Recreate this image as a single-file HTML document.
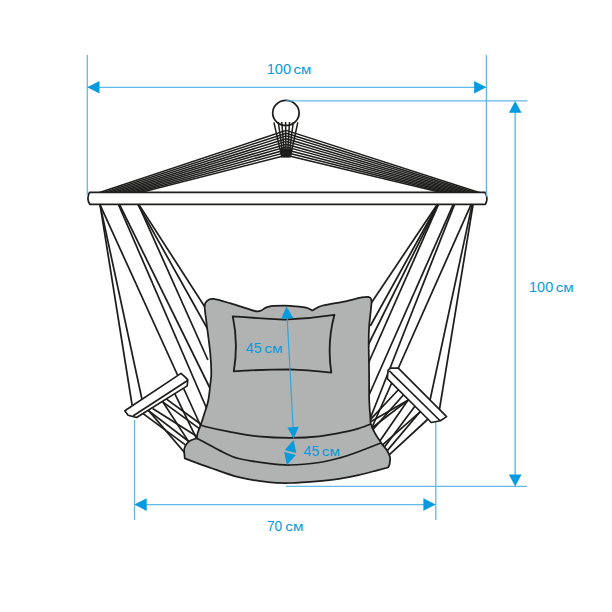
<!DOCTYPE html>
<html><head><meta charset="utf-8"><title>Hanging chair dimensions</title>
<style>html,body{margin:0;padding:0;background:#fff;}svg{display:block;}text{font-family:"Liberation Sans",sans-serif;fill:#059bde;}</style>
</head><body>
<svg width="612" height="612" viewBox="0 0 612 612">
<rect width="612" height="612" fill="#fff"/>
<g stroke="#5fbaea" stroke-width="1.3" fill="none">
<line x1="87.3" y1="87.3" x2="486.6" y2="87.3" />
<line x1="299.5" y1="100.9" x2="527.5" y2="100.9" />
<line x1="286.0" y1="486.4" x2="527.0" y2="486.4" />
<line x1="134.5" y1="420.0" x2="134.5" y2="520.0" />
<line x1="435.8" y1="421.0" x2="435.8" y2="520.0" />
<line x1="134.5" y1="504.6" x2="435.8" y2="504.6" />
</g>
<g stroke="#7cc6ed" stroke-width="1.8" fill="none">
<line x1="515.2" y1="105.0" x2="515.2" y2="482.0" />
</g>
<g stroke="#1d1d1b" stroke-width="1.5" fill="none" stroke-linecap="butt">
<line x1="98.1" y1="193.0" x2="286.2" y2="130.4" />
<line x1="480.7" y1="193.0" x2="286.2" y2="130.4" />
<line x1="102.6" y1="193.0" x2="286.2" y2="133.2" />
<line x1="476.5" y1="193.0" x2="286.2" y2="133.2" />
<line x1="107.1" y1="193.0" x2="286.2" y2="135.9" />
<line x1="472.4" y1="193.0" x2="286.2" y2="135.9" />
<line x1="111.6" y1="193.0" x2="286.2" y2="138.7" />
<line x1="468.2" y1="193.0" x2="286.2" y2="138.7" />
<line x1="116.1" y1="193.0" x2="286.2" y2="141.4" />
<line x1="464.1" y1="193.0" x2="286.2" y2="141.4" />
<line x1="120.5" y1="193.0" x2="286.2" y2="144.2" />
<line x1="459.9" y1="193.0" x2="286.2" y2="144.2" />
<line x1="125.0" y1="193.0" x2="286.2" y2="146.9" />
<line x1="455.8" y1="193.0" x2="286.2" y2="146.9" />
<line x1="129.5" y1="193.0" x2="286.2" y2="149.7" />
<line x1="451.6" y1="193.0" x2="286.2" y2="149.7" />
<line x1="134.0" y1="193.0" x2="286.2" y2="152.4" />
<line x1="447.5" y1="193.0" x2="286.2" y2="152.4" />
<line x1="138.5" y1="193.0" x2="286.2" y2="155.2" />
<line x1="443.3" y1="193.0" x2="286.2" y2="155.2" />
</g>
<ellipse cx="285.9" cy="112.9" rx="13.2" ry="12.55" fill="#fff" stroke="#1d1d1b" stroke-width="1.75"/>
<g stroke="#1d1d1b" stroke-width="1.5" fill="none" stroke-linecap="butt">
<line x1="273.9" y1="122.4" x2="281.8" y2="157.2" />
<line x1="278.3" y1="122.0" x2="283.2" y2="157.2" />
<line x1="281.8" y1="122.0" x2="284.6" y2="157.2" />
<line x1="285.6" y1="122.0" x2="286.0" y2="157.2" />
<line x1="289.5" y1="122.0" x2="287.4" y2="157.2" />
<line x1="293.3" y1="122.0" x2="288.8" y2="157.2" />
<line x1="297.8" y1="122.4" x2="290.3" y2="157.2" />
</g>
<path d="M280.2 148.5 L292 148.5 L290.6 157.6 L281.5 157.6 Z" fill="#1d1d1b"/>
<line x1="285.8" y1="100.9" x2="299.5" y2="100.9" stroke="#5fbaea" stroke-width="1.1"/>
<g stroke="#1d1d1b" stroke-width="1.72" fill="none">
<line x1="99.9" y1="203.6" x2="132.1" y2="405.0" />
<line x1="99.8" y1="203.6" x2="141.9" y2="399.0" />
<line x1="99.5" y1="203.6" x2="202.1" y2="429.0" />
<line x1="118.1" y1="203.6" x2="207.3" y2="410.0" />
<line x1="119.1" y1="203.6" x2="209.9" y2="388.0" />
<line x1="138.0" y1="203.6" x2="207.9" y2="360.0" />
<line x1="137.5" y1="203.6" x2="208.2" y2="330.0" />
<line x1="138.3" y1="203.6" x2="204.9" y2="307.0" />
<line x1="142.1" y1="412.9" x2="189.1" y2="447.6" />
<line x1="147.8" y1="410.1" x2="192.5" y2="444.2" />
<line x1="152.6" y1="408.4" x2="197.9" y2="437.0" />
<line x1="161.7" y1="401.1" x2="201.1" y2="429.9" />
<line x1="165.8" y1="398.6" x2="202.3" y2="425.3" />
<line x1="148.0" y1="409.9" x2="186.2" y2="454.5" />
<line x1="162.1" y1="400.7" x2="189.8" y2="443.4" />
<line x1="174.4" y1="392.8" x2="196.2" y2="437.9" />
<line x1="473.2" y1="203.6" x2="438.7" y2="414.0" />
<line x1="472.3" y1="203.6" x2="429.4" y2="403.0" />
<line x1="471.5" y1="203.6" x2="371.7" y2="428.0" />
<line x1="454.8" y1="203.6" x2="369.6" y2="420.0" />
<line x1="453.6" y1="203.6" x2="367.7" y2="398.0" />
<line x1="438.8" y1="203.6" x2="366.7" y2="367.0" />
<line x1="438.5" y1="203.6" x2="367.6" y2="346.0" />
<line x1="438.2" y1="203.6" x2="370.3" y2="326.0" />
<line x1="437.9" y1="203.6" x2="370.6" y2="304.0" />
<line x1="399.1" y1="389.0" x2="368.9" y2="421.2" />
<line x1="403.6" y1="394.7" x2="371.7" y2="430.9" />
<line x1="409.2" y1="399.6" x2="368.0" y2="423.2" />
<line x1="409.1" y1="399.4" x2="370.2" y2="429.3" />
<line x1="408.8" y1="399.1" x2="378.3" y2="443.2" />
<line x1="415.3" y1="405.7" x2="382.8" y2="449.3" />
<line x1="420.4" y1="411.6" x2="380.6" y2="446.6" />
<line x1="420.3" y1="411.5" x2="385.6" y2="452.6" />
<line x1="428.6" y1="418.5" x2="387.0" y2="456.9" />
</g>
<path d="M89.6 192.3 L484.9 192.3 Q488.7 198.3 485.4 204.3 L89.8 204.3 Q86.1 198.3 89.6 192.3 Z" fill="#fff" stroke="#1d1d1b" stroke-width="1.7" stroke-linejoin="round"/>
<g stroke="#5fbaea" stroke-width="1.3" fill="none">
<line x1="87.3" y1="55.0" x2="87.3" y2="196.5" />
<line x1="486.4" y1="55.0" x2="486.4" y2="196.5" />
</g>
<g stroke="#1d1d1b" stroke-width="1.65" fill="#fff" stroke-linejoin="round">
<path d="M124.8 410.8 L181 373.4 L185.8 377.6 L187.8 379.9 L187.2 385.9 L136.6 417.5 L128.1 415.3 Z"/>
<path d="M133 416 L187.6 380.5" fill="none"/>
<path d="M388.1 370.1 L390.5 368.1 L398.3 368.1 L446.6 416.6 L440.4 420.8 L431.2 422.5 L428.6 419.8 L387.3 378.7 Z"/>
<path d="M389.3 370.9 L440.4 421" fill="none"/>
</g>
<g stroke="#1d1d1b" stroke-width="1.75" fill="#b1b3b2" stroke-linejoin="round">
<path d="M204.7 308.0 C204.5 304.9 204.7 304.5 205.3 303.2 C205.9 301.9 207.0 300.7 208.4 300.0 C209.8 299.3 210.2 298.4 213.8 298.9 C217.4 299.4 224.2 301.5 230.0 303.2 C235.8 304.9 244.4 307.8 248.9 309.2 C253.4 310.6 255.0 311.2 257.1 311.4 C259.2 311.6 260.4 310.8 261.8 310.2 C263.2 309.6 264.1 308.5 265.3 307.9 C266.5 307.3 267.6 306.9 269.0 306.6 C270.4 306.3 269.9 306.0 273.4 305.9 C276.9 305.8 285.1 305.6 290.0 305.8 C294.9 306.0 300.1 306.7 303.1 307.1 C306.1 307.5 306.5 307.6 308.0 308.2 C309.5 308.8 311.4 310.0 312.1 310.4 C313.9 309.6 317.1 307.0 322.7 305.5 C328.3 304.0 339.1 302.7 345.6 301.3 C352.1 299.9 358.1 298.1 361.9 297.4 C365.7 296.7 366.8 296.5 368.4 296.9 C370.0 297.3 371.0 297.7 371.4 299.8 C371.8 301.9 371.3 305.2 370.9 309.5 C370.5 313.8 369.6 320.1 369.2 325.8 C368.8 331.5 368.7 335.9 368.7 343.8 C368.7 351.7 369.0 363.8 369.1 373.2 C369.2 382.6 369.0 392.7 369.2 400.0 C369.4 407.3 370.0 413.2 370.3 417.2 C370.6 421.2 370.1 421.3 370.9 424.0 C371.7 426.7 373.2 430.1 374.9 433.2 C376.6 436.3 379.2 440.0 381.2 442.9 C383.2 445.8 385.4 447.9 386.9 450.3 C388.4 452.7 389.6 454.9 390.0 457.2 C390.4 459.5 389.9 462.3 389.6 464.0 C389.3 465.7 388.3 466.9 388.0 467.5 C386.2 468.0 382.1 469.0 377.2 470.3 C372.3 471.6 364.8 473.8 358.4 475.2 C352.0 476.6 345.5 477.8 339.0 478.8 C332.5 479.8 327.4 480.4 319.2 481.1 C311.0 481.8 298.5 482.8 290.0 483.0 C281.5 483.2 276.6 483.1 268.0 482.1 C259.4 481.1 248.4 479.6 238.6 477.2 C228.8 474.8 218.2 470.5 209.2 467.4 C200.2 464.3 188.9 459.9 184.8 458.4 C184.7 456.9 183.9 451.6 184.2 449.2 C184.5 446.8 185.4 445.5 186.5 444.0 C187.6 442.5 189.3 441.2 191.0 440.3 C192.7 439.4 195.8 438.6 196.8 438.3 C196.9 437.4 196.9 435.5 197.6 433.2 C198.3 430.9 199.8 427.5 200.8 424.6 C201.8 421.7 202.4 420.0 203.6 416.0 C204.8 412.0 207.1 405.9 208.2 400.7 C209.3 395.5 209.7 389.6 210.2 385.0 C210.7 380.4 211.3 378.4 211.3 373.2 C211.3 368.0 211.1 362.1 210.3 353.6 C209.5 345.1 207.3 329.6 206.4 322.0 C205.5 314.4 204.9 311.1 204.7 308.0 Z"/>
<path d="M200.8 424.6 C201.5 424.9 200.3 425.3 205.0 426.5 C209.7 427.7 219.9 430.0 228.8 431.6 C237.7 433.2 248.0 435.3 258.2 436.4 C268.4 437.4 279.8 437.9 290.0 437.9 C300.2 437.9 309.4 437.5 319.2 436.4 C329.0 435.3 341.8 432.5 348.6 431.1 C355.4 429.7 356.3 429.2 360.0 428.0 C363.7 426.8 369.1 424.7 370.9 424.0" fill="none"/>
<path d="M196.8 438.3 C198.2 439.0 201.1 440.4 205.0 442.5 C208.9 444.6 214.4 447.9 220.0 450.6 C225.6 453.3 230.6 456.4 238.6 458.5 C246.6 460.6 259.4 462.3 268.0 463.4 C276.6 464.5 281.5 465.1 290.0 465.0 C298.5 464.9 310.9 463.7 319.2 462.5 C327.5 461.3 333.5 459.6 340.0 457.8 C346.5 456.0 351.5 454.2 358.4 451.7 C365.3 449.2 377.4 444.4 381.2 442.9" fill="none"/>
<path d="M232.8 316.4 Q262 318.6 284 319.6 Q310 318.6 334.4 314.8 Q326.8 343 331.3 372.6 Q305 370 290 369.4 Q262 369.6 233.8 371.3 Q238.5 343 232.8 316.4 Z" fill="none" stroke-width="1.85"/>
</g>
<path d="M87.3 87.3 L99.5 93.6 L99.5 81.0 Z" fill="#059bde"/>
<path d="M486.3 87.3 L474.1 81.0 L474.1 93.6 Z" fill="#059bde"/>
<path d="M515.2 101.0 L508.9 112.8 L521.5 112.8 Z" fill="#059bde"/>
<path d="M515.2 486.4 L521.5 474.6 L508.9 474.6 Z" fill="#059bde"/>
<path d="M134.5 504.6 L146.7 510.9 L146.7 498.3 Z" fill="#059bde"/>
<path d="M435.6 504.5 L423.4 498.2 L423.4 510.8 Z" fill="#059bde"/>
<line x1="287.1" y1="316.5" x2="293.2" y2="428.9" stroke="#2ea4de" stroke-width="1.15"/>
<path d="M286.6 306.5 L281.1 318.8 L293.4 318.2 Z" fill="#059bde"/>
<path d="M293.7 438.9 L298.7 426.8 L287.5 427.4 Z" fill="#059bde"/>
<path d="M293.6 440.0 L284.7 450.0 L296.3 453.1 Z" fill="#059bde"/>
<path d="M286.9 465.0 L295.8 455.0 L284.2 451.9 Z" fill="#059bde"/>
<text x="266.68" y="74.1" font-size="15.5" textLength="24.50" lengthAdjust="spacingAndGlyphs">100</text><text x="293.47" y="74.1" font-size="13.4" textLength="17.75" lengthAdjust="spacingAndGlyphs">см</text>
<text x="529.10" y="292.4" font-size="15.5" textLength="24.07" lengthAdjust="spacingAndGlyphs">100</text><text x="555.76" y="292.4" font-size="13.4" textLength="17.97" lengthAdjust="spacingAndGlyphs">см</text>
<text x="266.90" y="531.4" font-size="15.5" textLength="15.24" lengthAdjust="spacingAndGlyphs">70</text><text x="285.36" y="531.4" font-size="13.4" textLength="18.08" lengthAdjust="spacingAndGlyphs">см</text>
<text x="245.77" y="353.4" font-size="15.5" textLength="15.94" lengthAdjust="spacingAndGlyphs">45</text><text x="264.35" y="353.4" font-size="13.4" textLength="18.41" lengthAdjust="spacingAndGlyphs">см</text>
<text x="303.57" y="455.7" font-size="15.5" textLength="15.83" lengthAdjust="spacingAndGlyphs">45</text><text x="321.86" y="455.7" font-size="13.4" textLength="18.08" lengthAdjust="spacingAndGlyphs">см</text>
</svg></body></html>
